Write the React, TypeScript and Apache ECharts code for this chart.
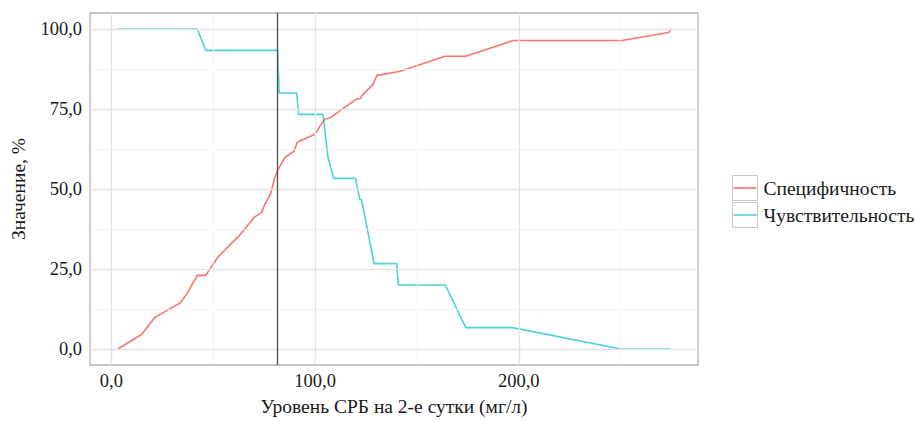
import React, { useEffect, useRef } from "react";
import * as echarts from "echarts";

const specX = [3.2, 14.9, 21.4, 34.0, 37.4, 42.2, 46.3, 52.5, 62.3, 70.4, 73.7, 75.3, 78.2, 80.2, 82.1, 85.1, 89.7, 91.3, 99.8, 104.7, 107.1, 120.2, 122.3, 122.9, 128.3, 130.4, 141.4, 163.8, 174.0, 197.2, 250.7, 273.5, 274.8];
const specY = [0, 4.6, 9.9, 14.5, 17.6, 23.0, 23.0, 28.9, 35.1, 41.3, 42.6, 45.2, 48.5, 53.6, 56.4, 59.8, 61.8, 64.7, 67.0, 71.9, 72.1, 78.1, 78.3, 79.1, 82.6, 85.5, 86.7, 91.5, 91.5, 96.4, 96.4, 98.9, 99.9];

const sensX = [3.2, 42.2, 46.3, 81.6, 82.4, 91.0, 91.9, 103.9, 106.3, 109.1, 119.8, 122.0, 122.8, 129.0, 140.1, 140.9, 163.9, 174.0, 196.9, 250.2, 274.5];
const sensY = [100, 100, 93.33, 93.33, 80, 80, 73.33, 73.33, 60, 53.33, 53.33, 46.67, 46.67, 26.67, 26.67, 20, 20, 6.67, 6.67, 0, 0];

const cutoff = 81.6;

const xMajor = [0, 100, 200];
const xMinor = [50, 150, 250];
const yMajor = [0, 25, 50, 75, 100];
const yMinor = [12.5, 37.5, 62.5, 87.5];

const seriesNames = ["Специфичность", "Чувствительность"];
const colors = ["#F8766D", "#00BFC4"];
const xTitle = "Уровень СРБ на 2-е сутки (мг/л)";
const yTitle = "Значение, %";

const FONT = "'Liberation Serif', 'DejaVu Serif', serif";
const fmt = (v: number) => v.toFixed(1).replace(".", ",");

export default function App() {
  const ref = useRef<HTMLDivElement>(null);
  useEffect(() => {
    if (!ref.current) return;
    const chart = echarts.init(ref.current, undefined, { renderer: "svg" });
    const gridLines = [
      ...xMinor.map((v) => ({ xAxis: v, lineStyle: { color: "#f2f2f2", width: 0.8, type: "solid" } })),
      ...yMinor.map((v) => ({ yAxis: v, lineStyle: { color: "#f2f2f2", width: 0.8, type: "solid" } })),
      ...xMajor.map((v) => ({ xAxis: v, lineStyle: { color: "#e3e3e3", width: 1.3, type: "solid" } })),
      ...yMajor.map((v) => ({ yAxis: v, lineStyle: { color: "#e3e3e3", width: 1.3, type: "solid" } })),
    ];
    const xMin = -10.5;
    const xMax = 288;
    chart.setOption({
      animation: false,
      grid: {
        left: 88,
        right: 217,
        top: 13,
        bottom: 52,
        show: true,
        borderColor: "#b3b3b3",
        borderWidth: 1.3,
        backgroundColor: "#fff",
      },
      xAxis: {
        type: "value",
        min: xMin,
        max: xMax,
        splitLine: { show: false },
        axisLine: { show: false },
        axisTick: { show: true, customValues: xMajor, length: 4, lineStyle: { color: "#b3b3b3", width: 1.2 } },
        axisLabel: {
          customValues: xMajor,
          formatter: (v: number) => fmt(v),
          color: "#1a1a1a",
          fontFamily: FONT,
          fontSize: 18.5,
          margin: 6,
        },
        name: xTitle,
        nameLocation: "middle",
        nameGap: 31,
        nameTextStyle: { color: "#1a1a1a", fontFamily: FONT, fontSize: 19.5 },
      },
      yAxis: {
        type: "value",
        min: -5,
        max: 105,
        splitLine: { show: false },
        axisLine: { show: false },
        axisTick: { show: true, customValues: yMajor, length: 4, lineStyle: { color: "#b3b3b3", width: 1.2 } },
        axisLabel: {
          customValues: yMajor,
          formatter: (v: number) => fmt(v),
          color: "#1a1a1a",
          fontFamily: FONT,
          fontSize: 18.5,
          margin: 8,
        },
        name: yTitle,
        nameLocation: "middle",
        nameGap: 62,
        nameTextStyle: { color: "#1a1a1a", fontFamily: FONT, fontSize: 19.5 },
      },
      series: [
        {
          type: "line",
          name: "grid",
          data: [],
          z: 1,
          silent: true,
          markLine: {
            silent: true,
            symbol: "none",
            label: { show: false },
            data: gridLines,
          },
        },
        {
          type: "line",
          name: seriesNames[0],
          data: specX.map((x, i) => [x, specY[i]]),
          showSymbol: false,
          z: 3,
          lineStyle: { color: colors[0], width: 1.6 },
          itemStyle: { color: colors[0] },
        },
        {
          type: "line",
          name: seriesNames[1],
          data: sensX.map((x, i) => [x, sensY[i]]),
          showSymbol: false,
          z: 3,
          lineStyle: { color: colors[1], width: 1.6, opacity: 0.7 },
          itemStyle: { color: colors[1] },
          markLine: {
            silent: true,
            symbol: "none",
            label: { show: false },
            lineStyle: { color: "#4d4d4d", width: 1.3, type: "solid" },
            data: [{ xAxis: cutoff }],
          },
        },
      ],
      graphic: [
        ...seriesNames.map((name, i) => ({
          type: "group",
          left: 731,
          top: 175 + i * 27,
          children: [
            {
              type: "rect",
              shape: { x: 0, y: 0, width: 25, height: 25 },
              style: { fill: "#fff", stroke: "#c8c8c8", lineWidth: 1 },
            },
            {
              type: "line",
              shape: { x1: 1, y1: 12.5, x2: 24, y2: 12.5 },
              style: { stroke: colors[i], lineWidth: 1.6, opacity: i === 1 ? 0.7 : 1 },
            },
            {
              type: "text",
              x: 31,
              y: 12.5,
              style: {
                text: name,
                fontFamily: FONT,
                fontSize: 19.5,
                fill: "#1a1a1a",
                verticalAlign: "middle",
              },
            },
          ],
        })),
      ],
    });
    return () => chart.dispose();
  }, []);
  return <div ref={ref} style={{ position: "absolute", left: 0, top: 0, width: 915, height: 421 }} />;
}
